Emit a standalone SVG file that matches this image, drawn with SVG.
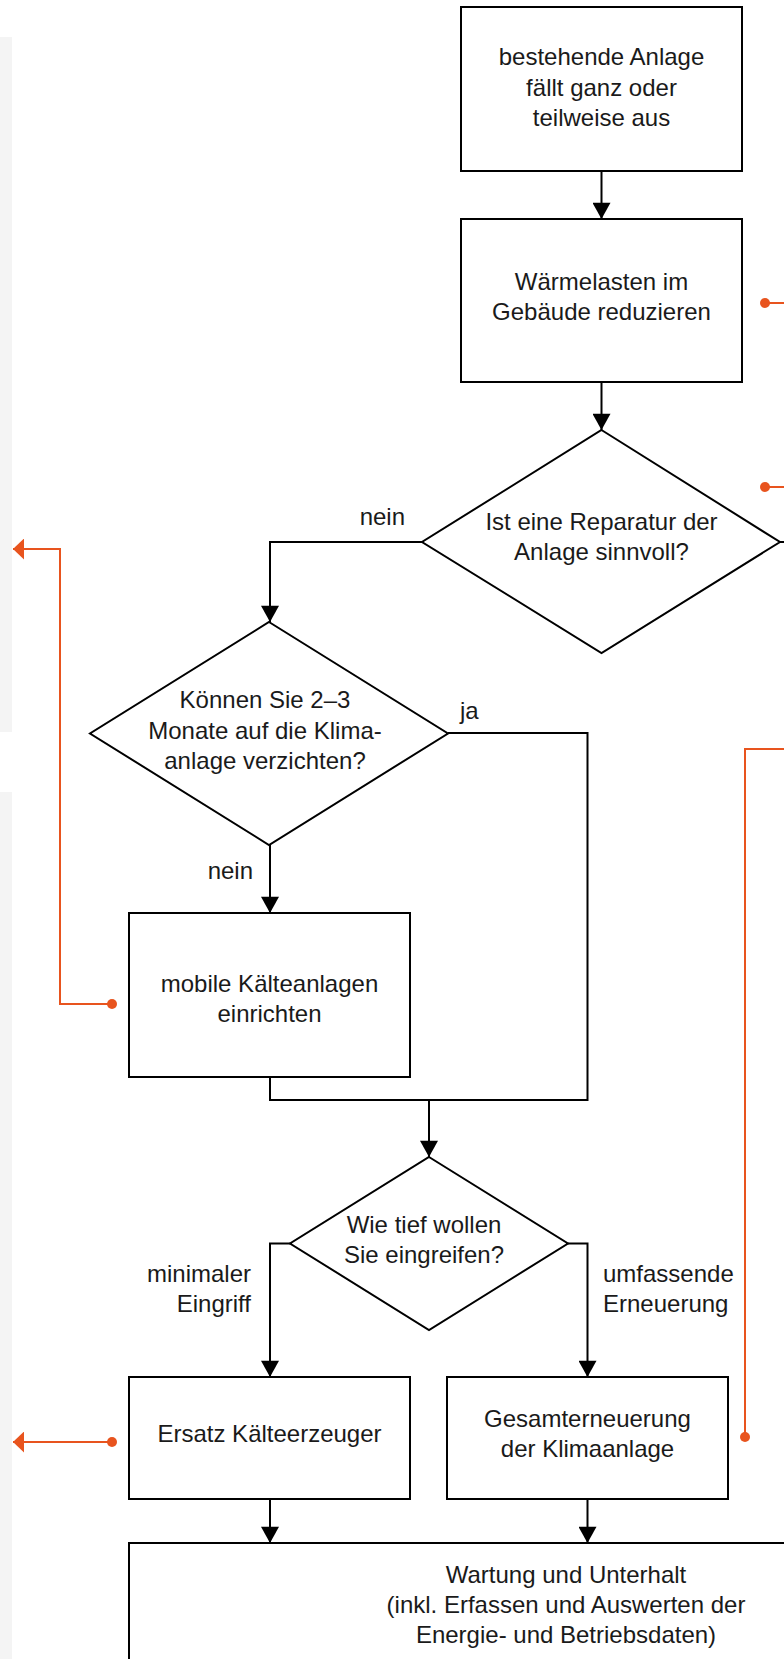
<svg xmlns="http://www.w3.org/2000/svg" width="784" height="1659" viewBox="0 0 784 1659">
<style>
.box{fill:#fff;stroke:#000;stroke-width:2}
.ln{fill:none;stroke:#000;stroke-width:2}
.or{fill:none;stroke:#e8541e;stroke-width:2}
.t{font-family:"Liberation Sans",Arial,sans-serif;font-size:24px;fill:#1a1a1a;text-anchor:middle}
.l{text-anchor:start}
.r{text-anchor:end}
</style>
<defs>
<marker id="ah" markerWidth="20" markerHeight="18" refX="18" refY="10" orient="auto" markerUnits="userSpaceOnUse" viewBox="0 0 18 20">
<path d="M0,0 L18,10 L0,20 Z" fill="#000"/>
</marker>
<marker id="oah" markerWidth="11" markerHeight="21" refX="11" refY="10.5" orient="auto" markerUnits="userSpaceOnUse" viewBox="0 0 11 21">
<path d="M0,0 L11,10.5 L0,21 Z" fill="#e8541e"/>
</marker>
</defs>
<rect x="0" y="37" width="12" height="695" fill="#f4f4f4"/>
<rect x="0" y="792" width="12" height="867" fill="#f4f4f4"/>
<g id="connectors">
<path class="ln" d="M601.5 171 V219" marker-end="url(#ah)"/>
<path class="ln" d="M601.5 382 V430" marker-end="url(#ah)"/>
<path class="ln" d="M422 542 H270 V622" marker-end="url(#ah)"/>
<path class="ln" d="M780 542 H784"/>
<path class="ln" d="M270 845 V913" marker-end="url(#ah)"/>
<path class="ln" d="M448 733 H587.5 V1100 H270 V1077"/>
<path class="ln" d="M429 1100 V1157" marker-end="url(#ah)"/>
<path class="ln" d="M290 1243.5 H270 V1377" marker-end="url(#ah)"/>
<path class="ln" d="M568 1243.5 H587.5 V1377" marker-end="url(#ah)"/>
<path class="ln" d="M270 1499 V1543" marker-end="url(#ah)"/>
<path class="ln" d="M587.5 1499 V1543" marker-end="url(#ah)"/>
<path class="or" d="M765 303 H784"/>
<circle cx="765" cy="303" r="5" fill="#e8541e"/>
<path class="or" d="M765 487 H784"/>
<circle cx="765" cy="487" r="5" fill="#e8541e"/>
<path class="or" d="M784 749 H745 V1437"/>
<circle cx="745" cy="1437" r="5" fill="#e8541e"/>
<path class="or" d="M112 1004 H60 V549 H13" marker-end="url(#oah)"/>
<circle cx="112" cy="1004" r="5" fill="#e8541e"/>
<path class="or" d="M112 1442 H13" marker-end="url(#oah)"/>
<circle cx="112" cy="1442" r="5" fill="#e8541e"/>
<text class="t r" x="405" y="525">nein</text>
<text class="t l" x="460" y="719">ja</text>
<text class="t r" x="253" y="879">nein</text>
<text class="t r" x="251" y="1282">minimaler</text>
<text class="t r" x="251" y="1312">Eingriff</text>
<text class="t l" x="603" y="1282">umfassende</text>
<text class="t l" x="603" y="1312">Erneuerung</text>
</g>
<g id="n1">
<rect class="box" x="461" y="7" width="281" height="164"/>
<text class="t" x="601.5" y="65">bestehende Anlage</text>
<text class="t" x="601.5" y="95.5">fällt ganz oder</text>
<text class="t" x="601.5" y="126">teilweise aus</text>
</g>
<g id="n2">
<rect class="box" x="461" y="219" width="281" height="163"/>
<text class="t" x="601.5" y="290">Wärmelasten im</text>
<text class="t" x="601.5" y="320">Gebäude reduzieren</text>
</g>
<g id="d1">
<polygon class="box" points="601.5,430 780,542 601.5,653 422,542"/>
<text class="t" x="601.5" y="530">Ist eine Reparatur der</text>
<text class="t" x="601.5" y="560">Anlage sinnvoll?</text>
</g>
<g id="d2">
<polygon class="box" points="269,622 448,733.5 269,845 90,733.5"/>
<text class="t" x="265" y="708">Können Sie 2–3</text>
<text class="t" x="265" y="739">Monate auf die Klima-</text>
<text class="t" x="265" y="769">anlage verzichten?</text>
</g>
<g id="n3">
<rect class="box" x="129" y="913" width="281" height="164"/>
<text class="t" x="269.5" y="992">mobile Kälteanlagen</text>
<text class="t" x="269.5" y="1022">einrichten</text>
</g>
<g id="d3">
<polygon class="box" points="429,1157 568,1243.5 429,1330 290,1243.5"/>
<text class="t" x="424" y="1233">Wie tief wollen</text>
<text class="t" x="424" y="1263">Sie eingreifen?</text>
</g>
<g id="n4">
<rect class="box" x="129" y="1377" width="281" height="122"/>
<text class="t" x="269.5" y="1442">Ersatz Kälteerzeuger</text>
</g>
<g id="n5">
<rect class="box" x="447" y="1377" width="281" height="122"/>
<text class="t" x="587.5" y="1427">Gesamterneuerung</text>
<text class="t" x="587.5" y="1457">der Klimaanlage</text>
</g>
<g id="n6">
<rect class="box" x="129" y="1543" width="874" height="160"/>
<text class="t" x="566" y="1583">Wartung und Unterhalt</text>
<text class="t" x="566" y="1613">(inkl. Erfassen und Auswerten der</text>
<text class="t" x="566" y="1643">Energie- und Betriebsdaten)</text>
</g>
</svg>
